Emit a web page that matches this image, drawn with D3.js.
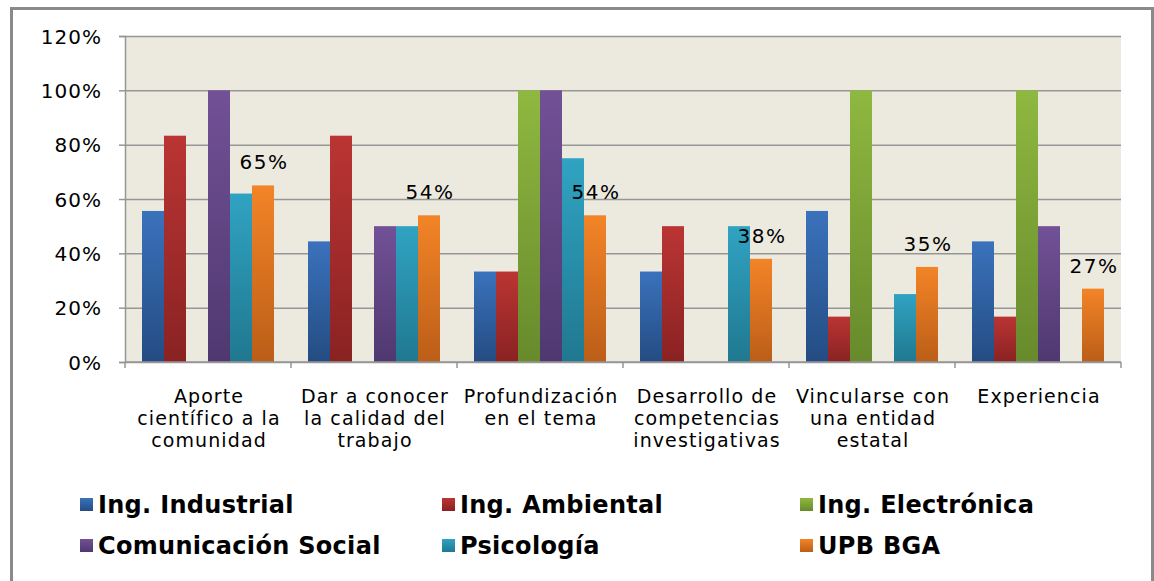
<!DOCTYPE html>
<html>
<head>
<meta charset="utf-8">
<script src="https://cdn.jsdelivr.net/npm/d3@7"></script>
<style>
  body { margin: 0; background: #fff; }
  svg { display: block; }
  text { font-family: "DejaVu Sans", Verdana, sans-serif; fill: #000; }
</style>
</head>
<body>
<div id="chart"></div>
<script>
// data
var categories = [
  ["Aporte", "científico a la", "comunidad"],
  ["Dar a conocer", "la calidad del", "trabajo"],
  ["Profundización", "en el tema"],
  ["Desarrollo de", "competencias", "investigativas"],
  ["Vincularse con", "una entidad", "estatal"],
  ["Experiencia"]
];
var seriesNames = ["Ing. Industrial", "Ing. Ambiental", "Ing. Electrónica",
                   "Comunicación Social", "Psicología", "UPB BGA"];
var industrial   = [0.556, 0.444, 0.333, 0.333, 0.556, 0.444];
var ambiental    = [0.833, 0.833, 0.333, 0.5, 0.167, 0.167];
var electronica  = [0, 0, 1, 0, 1, 1];
var comunicacion = [1, 0.5, 1, 0, 0, 0.5];
var psicologia   = [0.62, 0.5, 0.75, 0.5, 0.25, 0];
var upb          = [0.65, 0.54, 0.54, 0.38, 0.35, 0.27];
var yTicks = [0, 0.2, 0.4, 0.6, 0.8, 1.0, 1.2];

var values = [industrial, ambiental, electronica, comunicacion, psicologia, upb];
var colors = [
  ["#3A72BC", "#244C82"],
  ["#BA3534", "#8A2222"],
  ["#8FB840", "#678A2C"],
  ["#725196", "#4F3870"],
  ["#30A3C2", "#207890"],
  ["#F38427", "#BB5E18"]
];

var W = 1154, H = 581;
var svg = d3.select("#chart").append("svg")
    .attr("width", W)
    .attr("height", H);

var defs = svg.append("defs");
colors.forEach(function(c, i) {
  var g = defs.append("linearGradient")
      .attr("id", "grad" + i)
      .attr("x1", 0).attr("y1", 0).attr("x2", 0).attr("y2", 1);
  g.append("stop").attr("offset", "0%").attr("stop-color", c[0]);
  g.append("stop").attr("offset", "100%").attr("stop-color", c[1]);
});

// outer border
svg.append("rect")
    .attr("x", 11.5).attr("y", 8.5)
    .attr("width", 1141).attr("height", 620)
    .attr("fill", "#fff")
    .attr("stroke", "#8a8a8a")
    .attr("stroke-width", 3);

var plotL = 125, plotR = 1121, plotT = 36, plotB = 362;

var x0 = d3.scaleBand()
    .domain(d3.range(categories.length))
    .range([plotL, plotR])
    .padding(0);

var x1 = d3.scaleBand()
    .domain(d3.range(seriesNames.length))
    .range([17, x0.bandwidth() - 17])
    .padding(0);

var y = d3.scaleLinear()
    .domain([0, 1.2])
    .range([plotB, plotT]);

// plot background
svg.append("rect")
    .attr("x", plotL).attr("y", plotT)
    .attr("width", plotR - plotL).attr("height", plotB - plotT)
    .attr("fill", "#ECEADF");

// gridlines
var grid = svg.append("g")
    .attr("transform", "translate(" + plotL + ",0)")
    .call(d3.axisLeft(y).tickValues(yTicks).tickSize(-(plotR - plotL)).tickFormat(""));
grid.select(".domain").remove();
grid.selectAll("line").attr("stroke", "#969696").attr("stroke-width", 1.5);

// bars
var groups = svg.append("g").selectAll("g")
    .data(categories)
    .enter().append("g")
    .attr("transform", function(d, i) { return "translate(" + x0(i) + ",0)"; });

groups.selectAll("rect")
    .data(function(d, i) {
      return values.map(function(s, j) { return {s: j, v: s[i]}; })
        .filter(function(b) { return b.v > 0; });
    })
    .enter().append("rect")
    .attr("x", function(d) { return x1(d.s); })
    .attr("y", function(d) { return y(d.v); })
    .attr("width", x1.bandwidth())
    .attr("height", function(d) { return y(0) - y(d.v); })
    .attr("fill", function(d) { return "url(#grad" + d.s + ")"; });

// y axis
var yAxis = svg.append("g")
    .attr("transform", "translate(" + plotL + ",0)")
    .call(d3.axisLeft(y).tickValues(yTicks).tickSize(6).tickPadding(17)
      .tickFormat(d3.format(".0%")));
yAxis.select(".domain").attr("stroke", "#969696").attr("stroke-width", 1.5);
yAxis.selectAll("line").attr("stroke", "#969696").attr("stroke-width", 1.5);
yAxis.selectAll("text")
    .attr("font-size", "20px")
    .attr("letter-spacing", "1px")
    .attr("dy", "7px")
    .style("font-family", "DejaVu Sans, Verdana, sans-serif")
    .attr("fill", "#000");

// x axis line and ticks at band edges
svg.append("line")
    .attr("x1", plotL).attr("x2", plotR)
    .attr("y1", plotB).attr("y2", plotB)
    .attr("stroke", "#969696").attr("stroke-width", 1.5);
var edges = d3.range(categories.length).map(function(i) { return x0(i); }).concat([plotR]);
svg.append("g").selectAll("line")
    .data(edges)
    .enter().append("line")
    .attr("x1", function(d) { return d; }).attr("x2", function(d) { return d; })
    .attr("y1", plotB).attr("y2", plotB + 6)
    .attr("stroke", "#969696").attr("stroke-width", 1.5);

// category labels
var catLabels = svg.append("g").selectAll("text")
    .data(categories)
    .enter().append("text")
    .attr("text-anchor", "middle")
    .attr("font-size", "19px")
    .attr("letter-spacing", "1.1px")
    .attr("transform", function(d, i) {
      return "translate(" + (x0(i) + x0.bandwidth() / 2 + 1) + ",403)";
    });
catLabels.selectAll("tspan")
    .data(function(d) { return d; })
    .enter().append("tspan")
    .attr("x", 0)
    .attr("y", function(d, i) { return i * 22; })
    .text(function(d) { return d; });

// data labels for UPB BGA
var last = seriesNames.length - 1;
svg.append("g").selectAll("text")
    .data(upb)
    .enter().append("text")
    .attr("text-anchor", "middle")
    .attr("font-size", "20px")
    .attr("letter-spacing", "1.5px")
    .attr("x", function(d, i) { return x0(i) + x1(last) + x1.bandwidth() / 2 + 1; })
    .attr("y", function(d) { return y(d) - 16; })
    .text(function(d) { return d3.format(".0%")(d); });

// legend
var legendX = [80, 442, 800];
var legendY = [505, 546];
var legend = svg.append("g").selectAll("g")
    .data(seriesNames)
    .enter().append("g")
    .attr("transform", function(d, i) {
      return "translate(" + legendX[i % 3] + "," + legendY[Math.floor(i / 3)] + ")";
    });
legend.append("rect")
    .attr("x", 0).attr("y", -7)
    .attr("width", 13).attr("height", 13)
    .attr("fill", function(d, i) { return "url(#grad" + i + ")"; });
legend.append("text")
    .attr("x", 18)
    .attr("y", 8)
    .attr("font-size", "24px")
    .attr("font-weight", "bold")
    .attr("letter-spacing", "0.3px")
    .text(function(d) { return d; });
</script>
</body>
</html>
